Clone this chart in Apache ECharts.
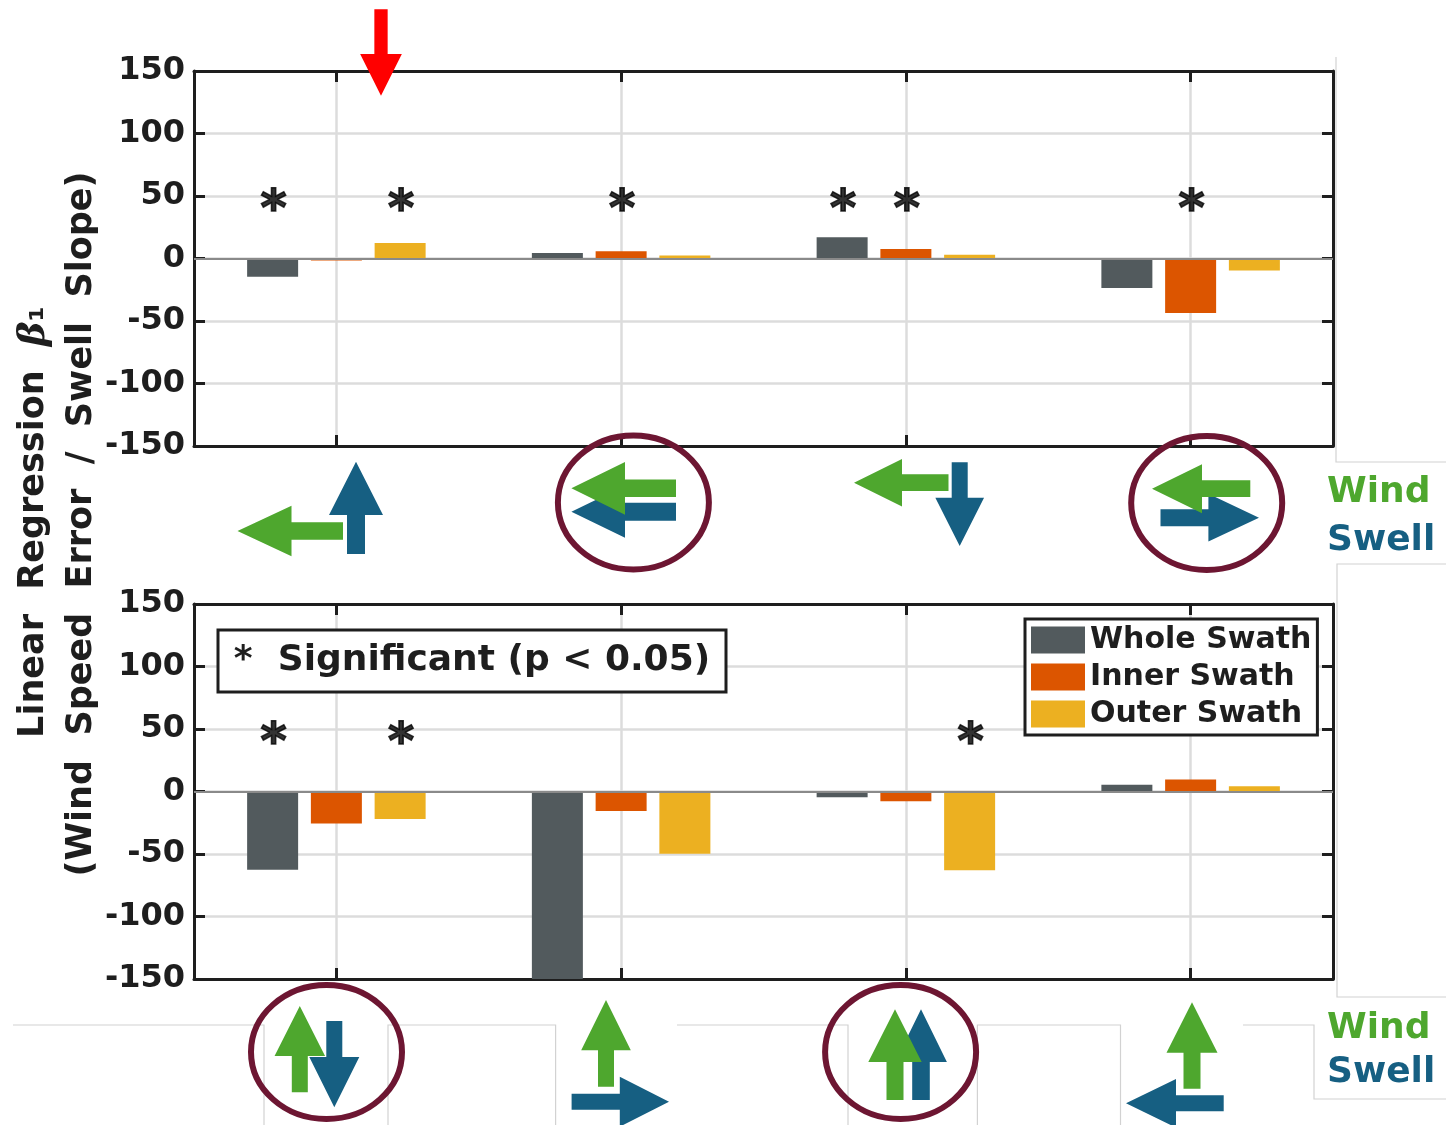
<!DOCTYPE html>
<html><head><meta charset="utf-8">
<script src="https://cdn.jsdelivr.net/npm/echarts@6/dist/echarts.min.js"></script>
<style>html,body{margin:0;padding:0;background:#fff}#chart{width:1446px;height:1125px}</style>
</head><body><div id="chart"></div>
<script>
// ---------------- DATA ----------------
const topCategories = ['Wind ← / Swell ↑', 'Wind ← / Swell ←', 'Wind ← / Swell ↓', 'Wind ← / Swell →'];
const bottomCategories = ['Wind ↑ / Swell ↓', 'Wind ↑ / Swell →', 'Wind ↑ / Swell ↑', 'Wind ↑ / Swell ←'];
const seriesNames = ['Whole Swath', 'Inner Swath', 'Outer Swath'];

const topWhole = [-14.5, 4.5, 17, -23.5];
const topInner = [-1.5, 5.8, 7.7, -43.5];
const topOuter = [12.5, 2.5, 3, -9.6];
const botWhole = [-62.5, -160, -4.5, 5.4];
const botInner = [-25.5, -15.5, -7.7, 9.6];
const botOuter = [-22, -49.7, -63, 4.3];

// significance (p < 0.05) flags
const topSigWhole = [1, 0, 1, 0];
const topSigInner = [0, 1, 1, 1];
const topSigOuter = [1, 0, 0, 0];
const botSigWhole = [1, 0, 0, 0];
const botSigInner = [0, 0, 0, 0];
const botSigOuter = [1, 0, 1, 0];
const sigLevel = 45;

const yMin = -150, yMax = 150, yInterval = 50;

// ---------------- STYLE / LAYOUT ----------------
const colors = ['#525a5d', '#dc5500', '#ecb021'];
const FONT = 'DejaVu Sans';
const ink = '#1e1e1e';
const gridColor = '#dcdcdc';
const windColor = '#4ea72e';
const swellColor = '#165f82';
const circleColor = '#6d1632';
const barW = 51, barGapPct = '25%';
const plotW = 1139;
const barOffset = (barW * 1.25) / (plotW / 4);

const grids = [
  {left: 194, top: 71, width: plotW, height: 375},
  {left: 194, top: 604, width: plotW, height: 375}
];

function catAxis(gi, cats, pos) {
  return {
    gridIndex: gi, type: 'category', data: cats, position: pos,
    axisLine: {show: true, onZero: false, lineStyle: {color: ink, width: 3}},
    axisTick: {show: true, inside: true, length: 11, alignWithLabel: true, lineStyle: {color: ink, width: 3}},
    axisLabel: {show: false},
    splitLine: {show: pos === 'bottom', alignWithLabel: true, lineStyle: {color: gridColor, width: 2.5}}
  };
}
function valAxisHidden(gi) {
  return {gridIndex: gi, type: 'value', min: 0.5, max: 4.5, show: false};
}
function yAx(gi, pos) {
  return {
    gridIndex: gi, type: 'value', min: yMin, max: yMax, interval: yInterval, position: pos,
    axisLine: {show: true, lineStyle: {color: ink, width: 3}},
    axisTick: {show: true, inside: true, length: 11, lineStyle: {color: ink, width: 3}},
    axisLabel: {show: pos === 'left', color: ink, fontFamily: FONT, fontWeight: 'bold', fontSize: 32, margin: 9},
    splitLine: {show: pos === 'left', lineStyle: {color: gridColor, width: 2.5}}
  };
}

function barSeries(gi, vals) {
  return vals.map((v, s) => ({
    type: 'bar', name: seriesNames[s], xAxisIndex: gi * 3, yAxisIndex: gi * 2,
    data: v, barWidth: barW, barGap: barGapPct,
    itemStyle: {color: colors[s]},
    z: 3,
    markLine: s === 0 ? {
      silent: true, symbol: 'none', label: {show: false},
      lineStyle: {color: '#8a8a8a', width: 2, type: 'solid'},
      data: [{yAxis: 0}], z: 4
    } : undefined
  }));
}
function sigSeries(gi, sigs) {
  const pts = [];
  sigs.forEach((arr, s) => arr.forEach((f, i) => {
    if (f) pts.push([i + 1 + (s - 1) * barOffset, sigLevel]);
  }));
  return {
    type: 'scatter', xAxisIndex: gi * 3 + 2, yAxisIndex: gi * 2, data: pts,
    symbolSize: 1, itemStyle: {color: 'rgba(0,0,0,0)'}, silent: true, z: 5,
    label: {show: true, position: 'inside', formatter: '*', color: '#000',
      textBorderColor: '#000', textBorderWidth: 1.6,
      fontFamily: FONT, fontWeight: 'bold', fontSize: 50, offset: [1, 10]}
  };
}

// arrows: tip, tail, shaft width, head width, head length (pixel layout of annotation glyphs)
function arrowPoly(tip, tail, sw, hw, hl) {
  const dx = tip[0] - tail[0], dy = tip[1] - tail[1];
  const L = Math.hypot(dx, dy), ux = dx / L, uy = dy / L, px = -uy, py = ux;
  const bx = tip[0] - ux * hl, by = tip[1] - uy * hl;
  return [
    [tail[0] + px * sw / 2, tail[1] + py * sw / 2],
    [bx + px * sw / 2, by + py * sw / 2],
    [bx + px * hw / 2, by + py * hw / 2],
    tip,
    [bx - px * hw / 2, by - py * hw / 2],
    [bx - px * sw / 2, by - py * sw / 2],
    [tail[0] - px * sw / 2, tail[1] - py * sw / 2]
  ];
}
const arrowDefs = [
  // top row
  [windColor, [237.5, 531], [343, 531], 17.3, 50.7, 54],
  [swellColor, [356, 461.7], [356, 554], 18, 54, 53.3],
  [swellColor, [571.4, 511.7], [676, 511.7], 18, 52, 53.6],
  [windColor, [571.4, 488.3], [676, 488.3], 17.4, 52.7, 53.6],
  [windColor, [854, 482.7], [948.5, 482.7], 16.7, 47.4, 48],
  [swellColor, [959.7, 546], [959.7, 462.3], 16, 48.7, 48.3],
  [swellColor, [1259, 517.7], [1160.5, 517.7], 17, 47.7, 50.6],
  [windColor, [1152, 488.7], [1250.3, 488.7], 16.7, 49, 50],
  // bottom row
  [windColor, [299.8, 1006], [299.8, 1092.3], 16, 50.5, 50],
  [swellColor, [334.3, 1107.3], [334.3, 1021], 16, 50, 50.3],
  [windColor, [606, 1000], [606, 1086.7], 16, 49.6, 50.3],
  [swellColor, [669, 1101.7], [571.6, 1101.7], 16, 50, 49.2],
  [swellColor, [921, 1009.3], [921, 1100], 17.6, 51.8, 52.7],
  [windColor, [895, 1009.3], [895, 1100], 17, 53.4, 52.7],
  [windColor, [1192, 1002.3], [1192, 1088.7], 17, 51, 50.4],
  [swellColor, [1126, 1103.3], [1223.7, 1103.3], 16, 48.6, 50],
  // red marker arrow
  ['#ff0000', [381, 95.7], [381, 9.3], 13.3, 41.7, 41.7]
];
const ellipseDefs = [[633.4, 502.5], [1206.7, 503], [326.5, 1052], [900.6, 1052]];
const faintLines = [
  [[1336, 57], [1336, 462], [1446, 462]],
  [[1446, 564], [1337, 564], [1337, 997], [1446, 997]],
  [[13, 1025], [264, 1025], [264, 1125]],
  [[388, 1125], [388, 1025], [555.6, 1025], [555.6, 1125]],
  [[677, 1025], [848, 1025], [848, 1125]],
  [[977.4, 1125], [977.4, 1025], [1120.5, 1025], [1120.5, 1125]],
  [[1243, 1025], [1314, 1025], [1314, 1099], [1446, 1099]]
];

const graphics = [];
faintLines.forEach(pts => graphics.push({type: 'polyline', z: 1, silent: true,
  shape: {points: pts}, style: {stroke: '#d2d2d2', lineWidth: 1.2, fill: null}}));
graphics.push({type: 'rect', z: 100, shape: {x: 218, y: 630, width: 508, height: 62},
  style: {fill: '#fff', stroke: ink, lineWidth: 3}});
graphics.push({type: 'text', z: 101, x: 472, y: 661,
  style: {text: '*  Significant (p < 0.05)', fill: ink, font: 'bold 36px "DejaVu Sans"', align: 'center', verticalAlign: 'middle'}});
ellipseDefs.forEach(c => graphics.push({type: 'ellipse', z: 100,
  shape: {cx: c[0], cy: c[1], rx: 75.5, ry: 67}, style: {fill: null, stroke: circleColor, lineWidth: 6}}));
arrowDefs.forEach(a => graphics.push({type: 'polygon', z: 102,
  shape: {points: arrowPoly(a[1], a[2], a[3], a[4], a[5])}, style: {fill: a[0]}}));
[[475, 523], [1011, 1055]].forEach(b => {
  graphics.push({type: 'text', z: 101, x: 1327, y: b[0],
    style: {text: 'Wind', fill: windColor, font: 'bold 36px "DejaVu Sans"', align: 'left', verticalAlign: 'top'}});
  graphics.push({type: 'text', z: 101, x: 1327, y: b[1],
    style: {text: 'Swell', fill: swellColor, font: 'bold 36px "DejaVu Sans"', align: 'left', verticalAlign: 'top'}});
});
graphics.push({type: 'text', z: 101, x: 34, y: 522, rotation: Math.PI / 2,
  style: {text: 'Linear  Regression  {b|β}{s|₁}', fill: ink, font: 'bold 35px "DejaVu Sans"',
    align: 'center', verticalAlign: 'middle',
    rich: {b: {fontFamily: 'DejaVu Serif', fontStyle: 'italic', fontWeight: 'bold', fontSize: 37, fill: ink},
           s: {fontFamily: FONT, fontWeight: 'bold', fontSize: 35, fill: ink}}}});
graphics.push({type: 'text', z: 101, x: 82, y: 524, rotation: Math.PI / 2,
  style: {text: '(Wind  Speed  Error  /  Swell  Slope)', fill: ink, font: 'bold 35px "DejaVu Sans"',
    align: 'center', verticalAlign: 'middle'}});

const chart = echarts.init(document.getElementById('chart'), null, {renderer: 'canvas'});
chart.setOption({
  animation: false,
  backgroundColor: '#fff',
  grid: grids,
  xAxis: [
    catAxis(0, topCategories, 'bottom'), catAxis(0, topCategories, 'top'), valAxisHidden(0),
    catAxis(1, bottomCategories, 'bottom'), catAxis(1, bottomCategories, 'top'), valAxisHidden(1)
  ],
  yAxis: [yAx(0, 'left'), yAx(0, 'right'), yAx(1, 'left'), yAx(1, 'right')],
  legend: {
    data: seriesNames, left: 1025, top: 619, orient: 'vertical', icon: 'rect',
    itemWidth: 54, itemHeight: 27, itemGap: 7, itemTextGap: 6, padding: [6, 6, 6, 6],
    borderColor: ink, borderWidth: 3, backgroundColor: '#fff', borderRadius: 0, selectedMode: false, z: 50,
    textStyle: {fontFamily: FONT, fontWeight: 'bold', fontSize: 30, color: ink, lineHeight: 30}
  },
  series: [
    ...barSeries(0, [topWhole, topInner, topOuter]),
    ...barSeries(1, [botWhole, botInner, botOuter]),
    sigSeries(0, [topSigWhole, topSigInner, topSigOuter]),
    sigSeries(1, [botSigWhole, botSigInner, botSigOuter])
  ],
  graphic: graphics
});
</script></body></html>
